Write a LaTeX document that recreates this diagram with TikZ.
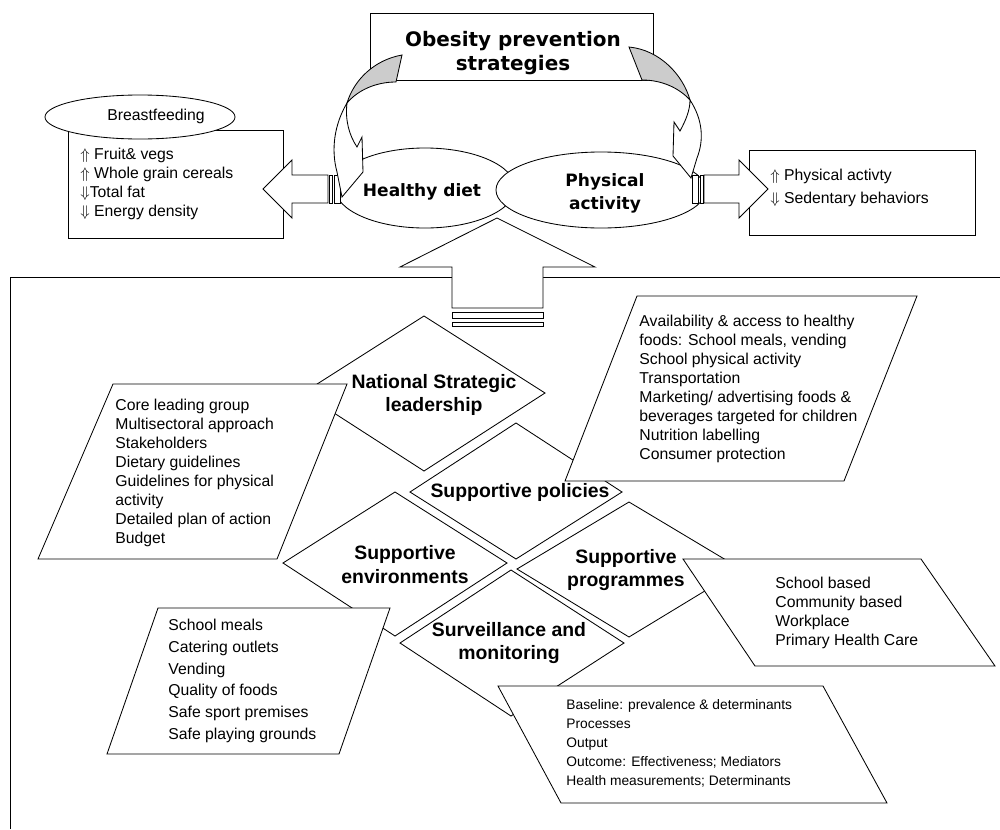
\documentclass[tikz,border=0pt]{standalone}
\usepackage{fontspec}
\setmainfont{Liberation Sans}
\newfontfamily\headfont{DejaVu Sans}
\usetikzlibrary{shapes.geometric}

\begin{document}
\begin{tikzpicture}[x=0.025cm, y=-0.025cm, line width=0.6pt]
	\tikzset{
		block/.style={draw, fill=white},
		fold/.style={draw, fill=black!20},
		list text/.style={anchor=north west, align=left, inner sep=0pt, execute at begin node=\strut, font=\fontsize{11.2}{13.5}\selectfont},
		small list/.style={list text, font=\fontsize{9.8}{13.5}\selectfont},
		diamond text/.style={align=center, inner sep=0pt, font=\bfseries\fontsize{13.8}{17}\selectfont},
		head text/.style={align=center, inner sep=0pt, font=\headfont\bfseries\fontsize{12.1}{16.4}\selectfont},
	}
	\useasboundingbox (0,0) rectangle (1000,829);

	% frame of the lower part
	\draw (10,829) -- (10,277) -- (1000,277);

	% diet box
	\draw[block] (68,130) rectangle (283,238);
	\node[list text] (diet list) at (80,148) {$\Uparrow$ Fruit\& vegs\\$\Uparrow$ Whole grain cereals\\$\Downarrow$Total fat\\$\Downarrow$ Energy density};
	\node[block, ellipse, minimum width=4.75cm, minimum height=1.1cm, inner sep=0pt] (breast) at (140,117) {};
	\node[font=\fontsize{11.2}{13.5}\selectfont, inner sep=0pt] (breast text) at (156,116) {Breastfeeding};

	% activity box
	\draw[block] (749,150) rectangle (975,235);
	\node[list text, font=\fontsize{11.2}{16.4}\selectfont] (activity list) at (770,169) {$\Uparrow$ Physical activty\\$\Downarrow$ Sedentary behaviors};

	% the two ellipses
	\node[block, ellipse, minimum width=4.5cm, minimum height=2cm, inner sep=0pt] (diet) at (425,188) {};
	\node[block, ellipse, minimum width=5.25cm, minimum height=1.9cm, inner sep=0pt] (activity) at (601,190) {};
	\node[head text] (diet text) at (422,192) {Healthy diet};
	\node[head text] (activity text) at (605,193) {Physical\\activity};

	% block arrows with stripes
	\draw[block] (263,189) -- (292,160) -- (292,175) -- (328,175) -- (328,203) -- (292,203) -- (292,218) -- cycle;
	\draw[block] (329,175) rectangle (332,203) (334,175) rectangle (340,203);
	\draw[block] (768,189) -- (739,160) -- (739,175) -- (704,175) -- (704,203) -- (739,203) -- (739,218) -- cycle;
	\draw[block] (692,175) rectangle (698,203) (700,175) rectangle (703,203);

	% title
	\node[block, minimum width=7.075cm, minimum height=1.675cm] (title) at (511.5,46.5) {};
	\node[align=center, inner sep=0pt, font=\headfont\bfseries\fontsize{14.2}{17}\selectfont] (title text) at (513,53) {Obesity prevention\\strategies};

	% curved arrows
	\draw[fold] (402,55) .. controls (374,60) and (354,80) .. (347,103) .. controls (358,90) and (376,82) .. (396,82) -- cycle;
	\draw[block] (347,103) .. controls (334,125) and (331,150) .. (337,172) -- (342,197) -- (363,172) -- (362,137) -- (357,147) .. controls (349,135) and (345,120) .. (347,103) -- cycle;
	\draw[fold] (629,47) .. controls (660,50) and (683,75) .. (690,100) .. controls (679,88) and (662,80) .. (642,80) -- cycle;
	\draw[block] (690,100) .. controls (703,120) and (704,140) .. (697,158) -- (691,178) -- (673,156) -- (674,122) -- (680,131) .. controls (686,120) and (690,110) .. (690,100) -- cycle;

	% up arrow
	\draw[block] (497,218) -- (595,267) -- (543,267) -- (543,308) -- (452,308) -- (452,267) -- (400,267) -- cycle;
	\draw[block] (452,312) rectangle (543,318) (452,322) rectangle (543,326);

	% leadership
	\draw[block] (424,316) -- (545,393) -- (424,471) -- (303,393) -- cycle;
	\draw[block] (113,384) -- (347,384) -- (277,559) -- (38,559) -- cycle;
	\node[diamond text] (leadership) at (434,395) {National Strategic\\leadership};
	\node[list text] (leadership list) at (115,399) {Core leading group\\Multisectoral approach\\Stakeholders\\Dietary guidelines\\Guidelines for physical\\activity\\Detailed plan of action\\Budget};

	% policies
	\draw[block] (516,423) -- (622,492) -- (516,559) -- (410,492) -- cycle;
	\draw[block] (637,296) -- (917,296) -- (844,481) -- (565,481) -- cycle;
	\node[diamond text] (policies) at (520,492) {Supportive policies};
	\node[list text] (policies list) at (639,315) {Availability \& access to healthy\\foods: School meals, vending\\School physical activity\\Transportation\\Marketing/ advertising foods \&\\beverages targeted for children\\Nutrition labelling\\Consumer protection};

	% environments
	\draw[block] (395,492) -- (507,563) -- (395,636) -- (283,563) -- cycle;
	\draw[block] (158,608) -- (390,608) -- (339,754) -- (107,754) -- cycle;
	\node[diamond text] (environments) at (405,565) {Supportive\\environments};
	\node[list text, font=\fontsize{11.2}{15.4}\selectfont] (environments list) at (168,619) {School meals\\Catering outlets\\Vending\\Quality of foods\\Safe sport premises\\Safe playing grounds};

	% programmes
	\draw[block] (629,502) -- (741,569) -- (629,637) -- (517,569) -- cycle;
	\draw[block] (683,559) -- (921,559) -- (995,666) -- (755,666) -- cycle;
	\node[diamond text] (programmes) at (626,570) {Supportive\\programmes};
	\node[list text] (programmes list) at (775,577) {School based\\Community based\\Workplace\\Primary Health Care};

	% surveillance
	\draw[block] (511,570) -- (624,643) -- (511,716) -- (400,643) -- cycle;
	\draw[block] (498,686) -- (823,686) -- (887,803) -- (561,803) -- cycle;
	\node[diamond text] (surveillance) at (509,643) {Surveillance and\\monitoring};
	\node[small list] (surveillance list) at (566,699) {Baseline: prevalence \& determinants\\Processes\\Output\\Outcome: Effectiveness; Mediators\\Health measurements; Determinants};
\end{tikzpicture}
\end{document}
